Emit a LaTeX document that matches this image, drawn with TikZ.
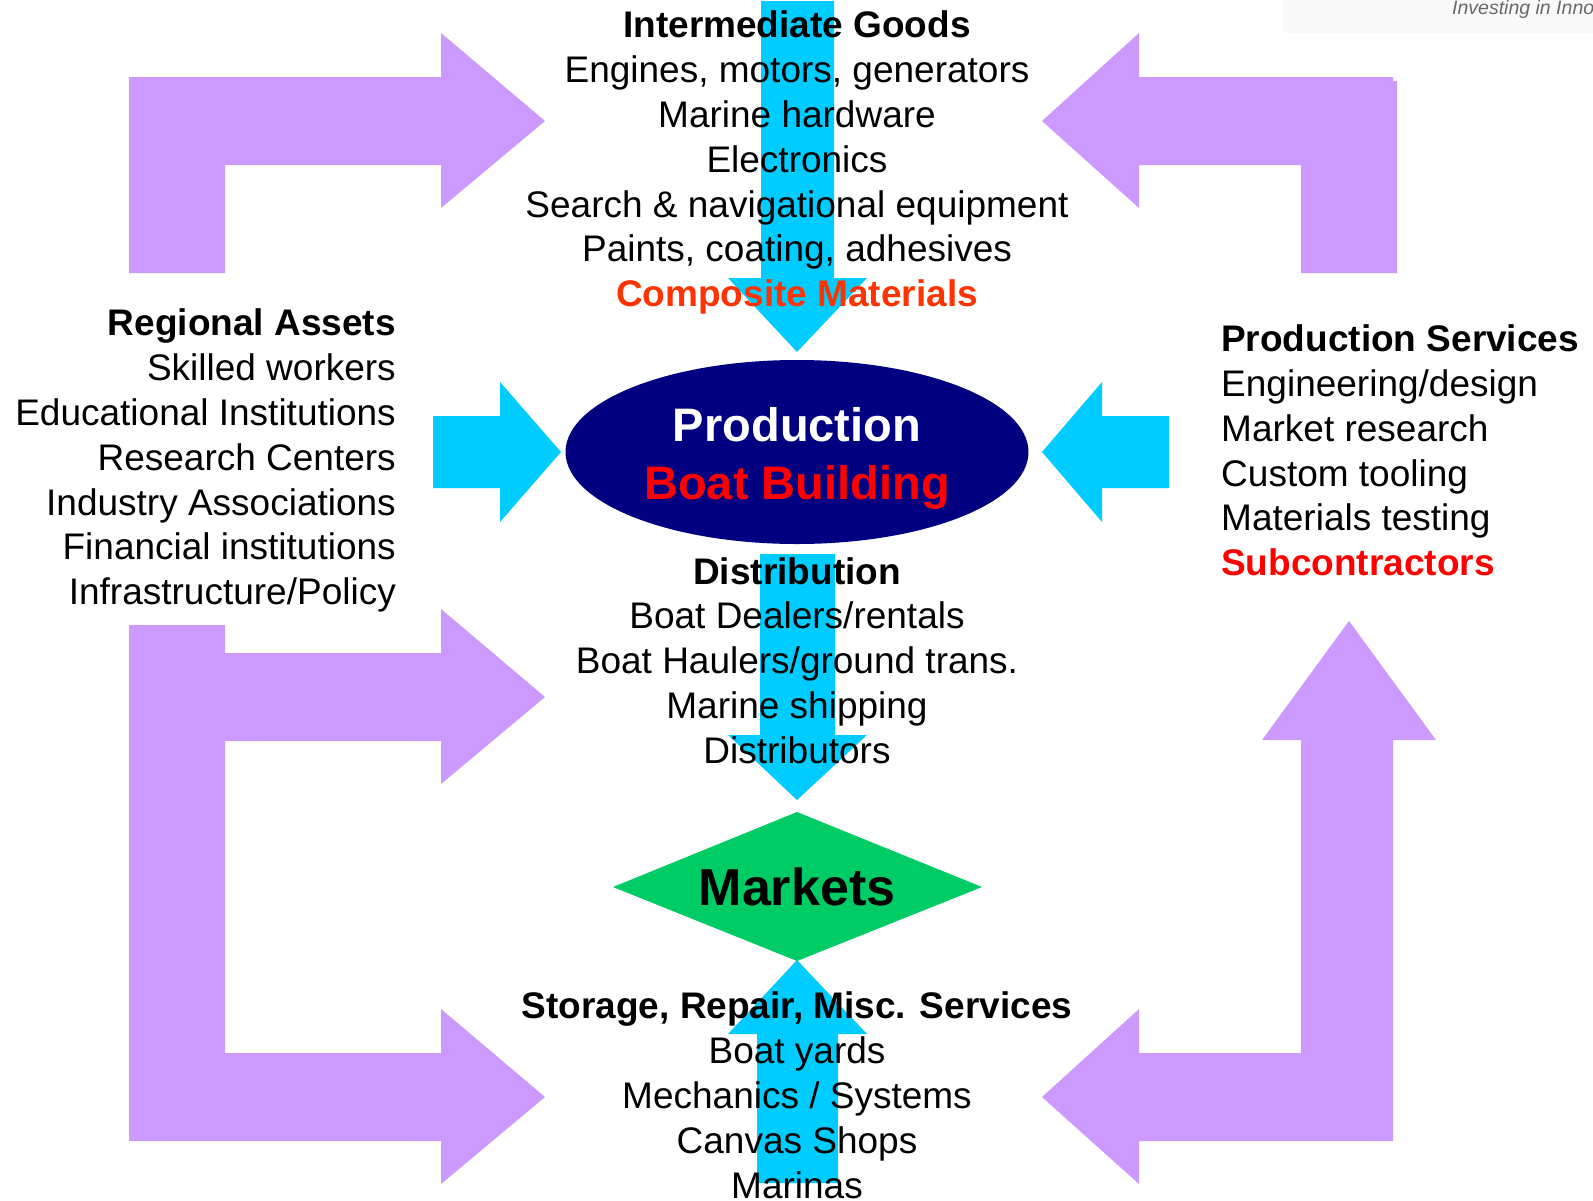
\documentclass[tikz,border=0pt]{standalone}
\usepackage{fontspec}
\setmainfont{Liberation Sans}
\usetikzlibrary{shapes.geometric}
\definecolor{lilac}{RGB}{204,153,255}
\definecolor{skycyan}{RGB}{0,204,255}
\definecolor{navyblue}{RGB}{0,0,128}
\definecolor{mktgreen}{RGB}{0,204,102}
\definecolor{orangered}{RGB}{255,51,0}
\definecolor{brightred}{RGB}{255,0,0}
\definecolor{logogrey}{RGB}{105,105,105}
\definecolor{logobg}{RGB}{249,249,249}
\newcommand\lstrut{\rule[-9.25pt]{0pt}{37pt}}
\newcommand\laststrut{\rule{0pt}{27.75pt}}
\newcommand\bstrut{\rule[-11.75pt]{0pt}{47pt}}
\tikzset{
  purplearrow/.style={fill=lilac, draw=none},
  cyanarrow/.style={fill=skycyan, draw=none},
  txt/.style={font=\fontsize{37}{44.8}\selectfont, inner sep=0pt, text=black},
  bigtxt/.style={font=\fontsize{47}{58}\selectfont\bfseries, inner sep=0pt, align=center},
}
\begin{document}
\begin{tikzpicture}[x=1pt,y=-1pt]
\useasboundingbox (0,0) rectangle (1593,1200);
\fill[white] (0,0) rectangle (1593,1200);
% logo strip
\fill[logobg] (1283,0) rectangle (1593,33);
\node[font=\fontsize{19.5}{22}\selectfont\itshape, text=logogrey, anchor=base west, inner sep=0pt] (logo) at (1452,14) {Investing in Inno};

% purple elbow arrows
\path[purplearrow] (129,273) -- (129,77) -- (441,77) -- (441,33) -- (545,121) -- (441,208) -- (441,165) -- (225,165) -- (225,273) -- cycle;
\path[purplearrow] (1042,121) -- (1139,33) -- (1139,77) -- (1393,77) -- (1393,81) -- (1397,81) -- (1397,273) -- (1301,273) -- (1301,165) -- (1139,165) -- (1139,208) -- cycle;
\path[purplearrow] (129,625) -- (225,625) -- (225,653) -- (441,653) -- (441,609) -- (545,697) -- (441,784) -- (441,741) -- (225,741) -- (225,1053) -- (441,1053) -- (441,1009) -- (545,1097) -- (441,1184) -- (441,1141) -- (129,1141) -- cycle;
\path[purplearrow] (1349,621) -- (1436,740) -- (1393,740) -- (1393,1141) -- (1139,1141) -- (1139,1184) -- (1042,1097) -- (1139,1009) -- (1139,1053) -- (1301,1053) -- (1301,740) -- (1262,740) -- cycle;

% cyan arrows
\path[cyanarrow] (433,416) -- (500,416) -- (500,382) -- (561,452) -- (500,522) -- (500,488) -- (433,488) -- cycle;
\path[cyanarrow] (1169,416) -- (1102,416) -- (1102,382) -- (1042,452) -- (1102,522) -- (1102,488) -- (1169,488) -- cycle;
\path[cyanarrow] (761,1) -- (834,1) -- (834,278) -- (867,278) -- (797,352) -- (728,278) -- (761,278) -- cycle;
\path[cyanarrow] (760,554) -- (835,554) -- (835,735) -- (867,735) -- (797,800) -- (728,735) -- (760,735) -- cycle;
\path[cyanarrow] (797,960) -- (867,1034) -- (838,1034) -- (838,1183) -- (757,1183) -- (757,1034) -- (728,1034) -- cycle;

% production ellipse
\node[ellipse, fill=navyblue, minimum width=463pt, minimum height=184pt, inner sep=0pt] (prod) at (797,452) {};
\node[bigtxt] (prodtxt) at (797,459) {\bstrut\textcolor{white}{Production}\\ \bstrut\textcolor{brightred}{Boat Building}};

% markets diamond
\fill[mktgreen] (613,887) -- (797,812) -- (982,887) -- (797,961) -- cycle;
\node[font=\fontsize{52}{60}\selectfont\bfseries, inner sep=0pt] (markets) at (797,887) {Markets};

% text blocks
\node[txt, align=center] (goods) at (797,163) {\lstrut\textbf{Intermediate Goods}\\
\lstrut Engines, motors, generators\\
\lstrut Marine hardware\\
\lstrut Electronics\\
\lstrut Search \& navigational equipment\\
\lstrut Paints, coating, adhesives\\
\lstrut\textcolor{orangered}{\textbf{Composite Materials}}};

\node[txt, align=right, anchor=east] (assets) at (396,461) {\lstrut\textbf{Regional Assets}\\
\lstrut Skilled workers\\
\lstrut Educational Institutions\\
\lstrut Research Centers\\
\lstrut Industry Associations\\
\lstrut Financial institutions\\
\lstrut Infrastructure/Policy};

\node[txt, align=left, anchor=west] (services) at (1221,454.5) {\lstrut\textbf{Production Services}\\
\lstrut Engineering/design\\
\lstrut Market research\\
\lstrut Custom tooling\\
\lstrut Materials testing\\
\lstrut\textcolor{brightred}{\textbf{Subcontractors}}};

\node[txt, align=center] (distrib) at (797,664.5) {\lstrut\textbf{Distribution}\\
\lstrut Boat Dealers/rentals\\
\lstrut Boat Haulers/ground trans.\\
\lstrut Marine shipping\\
\lstrut Distributors};

\node[txt, align=center] (storage) at (797,1094.8) {\lstrut\textbf{Storage, Repair, Misc. Services}\\
\lstrut Boat yards\\
\lstrut Mechanics / Systems\\
\lstrut Canvas Shops\\
\laststrut Marinas};
\end{tikzpicture}
\end{document}
